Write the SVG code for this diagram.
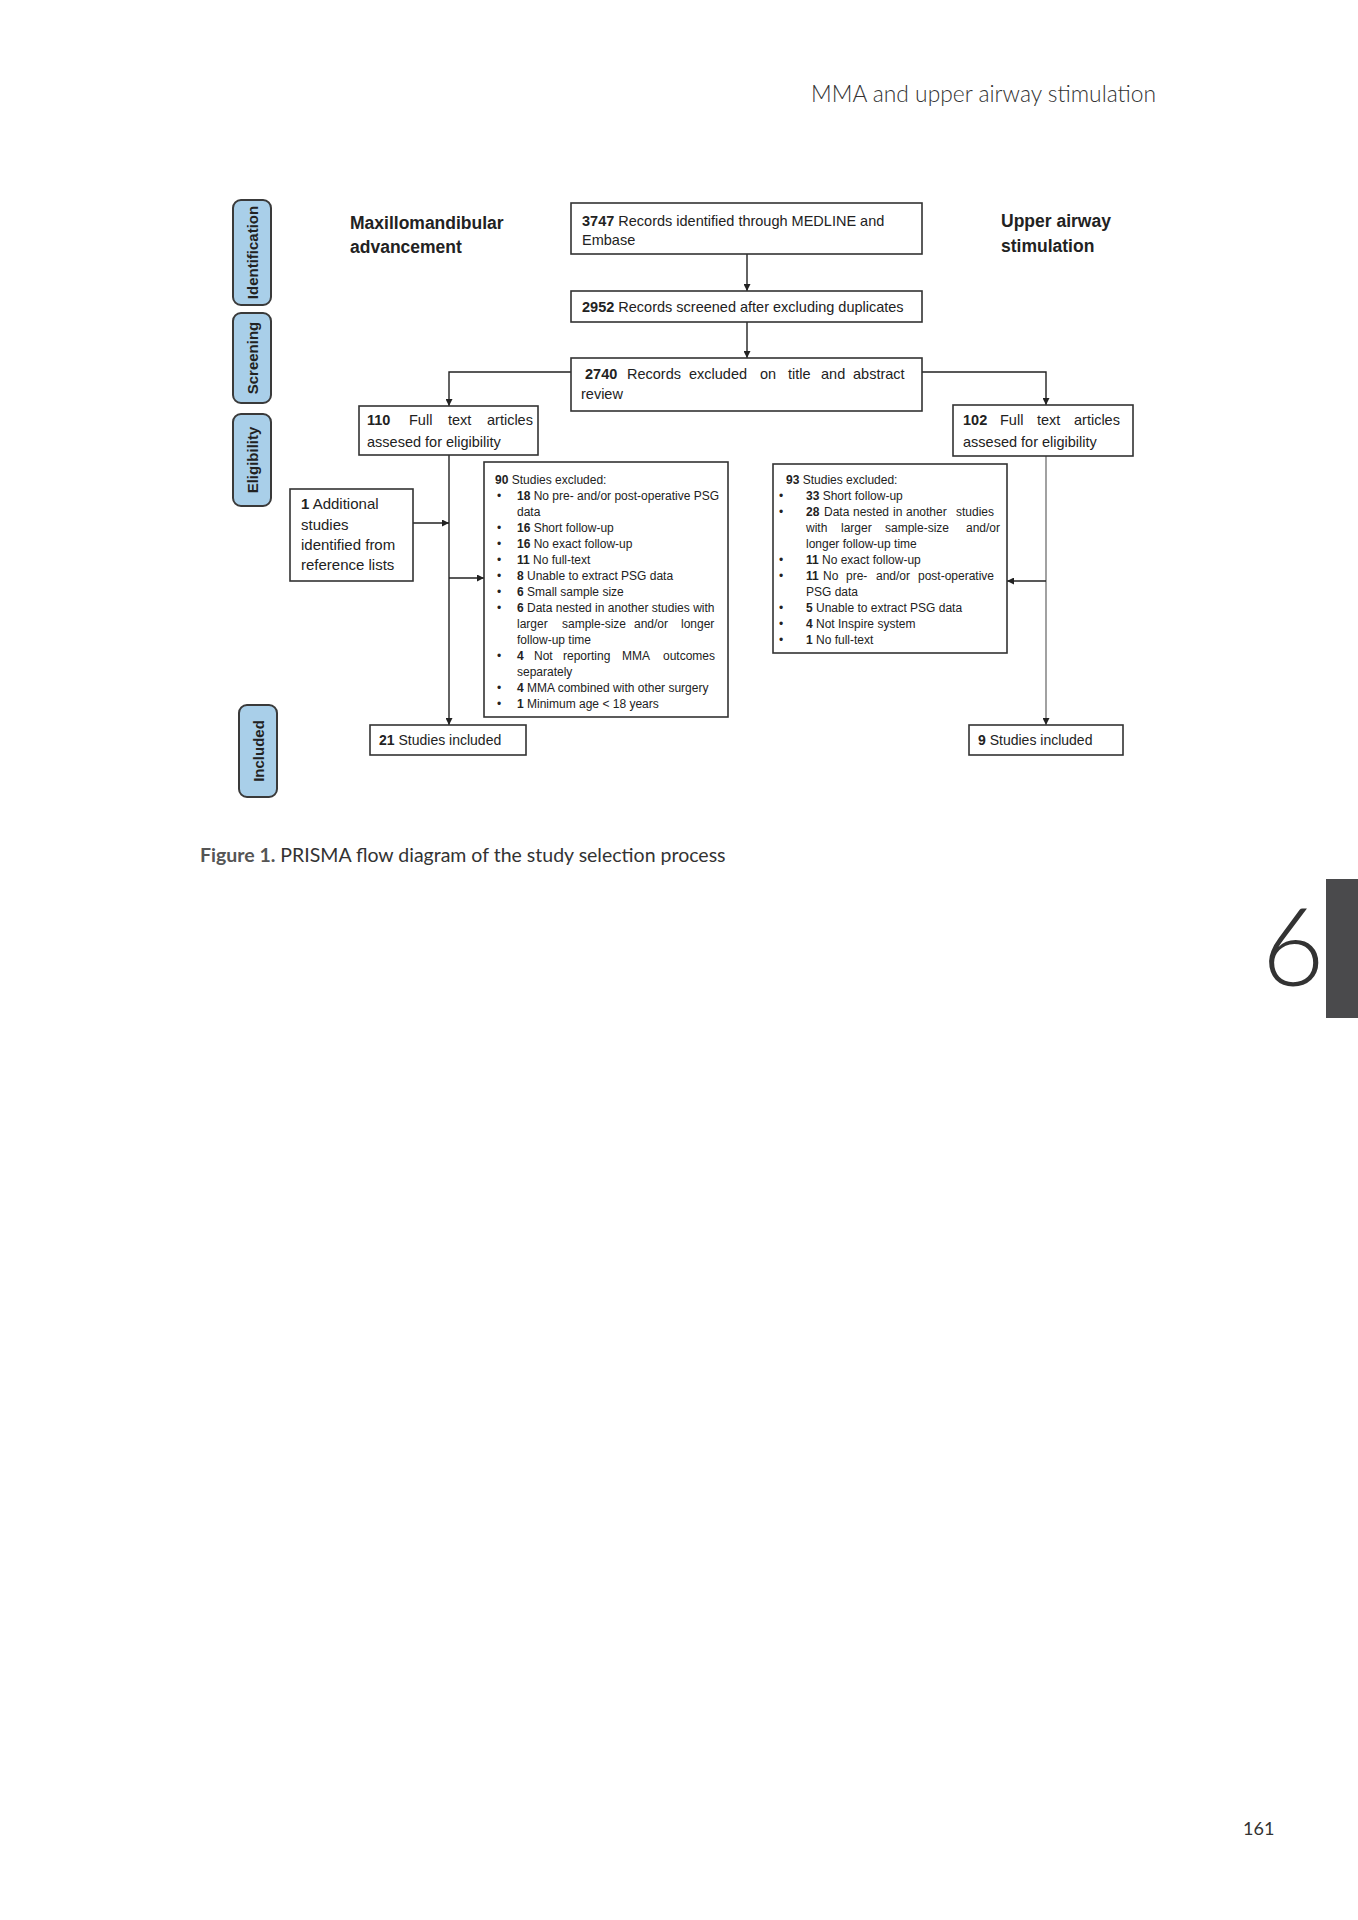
<svg xmlns="http://www.w3.org/2000/svg" width="1358" height="1920" viewBox="0 0 1358 1920">
<defs>
<marker id="ah" viewBox="0 0 10 10" refX="10" refY="5" markerWidth="7" markerHeight="7" markerUnits="userSpaceOnUse" orient="auto">
<path d="M0,0 L10,5 L0,10 z" fill="#222"/>
</marker>
<style>
.box{fill:#fff;stroke:#333;stroke-width:1.6}
.pill{fill:#a9cfe9;stroke:#3a3a3a;stroke-width:2}
.t{font-family:"Liberation Sans",Arial,sans-serif;fill:#222}
.m{font-size:14.5px}
.s{font-size:12px}
.h{font-size:17.5px;font-weight:bold}
.pt{font-family:"Liberation Sans",Arial,sans-serif;font-size:15px;font-weight:bold;fill:#222;text-anchor:middle;dominant-baseline:central}
.b{font-weight:bold}
.c{fill:none;stroke:#222;stroke-width:1.4}
.c2{fill:none;stroke:#555;stroke-width:1.1}
.pg{font-family:Lato,"Open Sans",sans-serif;fill:#333}
</style>
</defs>
<rect width="1358" height="1920" fill="#fff"/>

<!-- page header -->
<text class="pg" x="811" y="102" font-size="22.8" font-weight="300">MMA and upper airway stimulation</text>

<!-- phase labels -->
<g id="phase-identification">
<rect class="pill" x="233" y="200" width="38" height="105" rx="8"/>
<text class="pt" transform="translate(252,252.5) rotate(-90)">Identification</text>
</g>
<g id="phase-screening">
<rect class="pill" x="233" y="313" width="38" height="90" rx="8"/>
<text class="pt" transform="translate(252,358) rotate(-90)">Screening</text>
</g>
<g id="phase-eligibility">
<rect class="pill" x="233" y="414" width="38" height="92" rx="8"/>
<text class="pt" transform="translate(252,460) rotate(-90)">Eligibility</text>
</g>
<g id="phase-included">
<rect class="pill" x="239" y="705" width="38" height="92" rx="8"/>
<text class="pt" transform="translate(258,751) rotate(-90)">Included</text>
</g>

<!-- headings -->
<g id="heading-mma">
<text class="t h" x="350" y="229">Maxillomandibular</text>
<text class="t h" x="350" y="253">advancement</text>
</g>
<g id="heading-uas">
<text class="t h" x="1001" y="227">Upper airway</text>
<text class="t h" x="1001" y="252">stimulation</text>
</g>

<!-- connectors -->
<g id="connectors">
<line class="c" x1="747" y1="254" x2="747" y2="291" marker-end="url(#ah)"/>
<line class="c" x1="747" y1="322" x2="747" y2="358" marker-end="url(#ah)"/>
<polyline class="c" points="571,372 449,372 449,406" marker-end="url(#ah)"/>
<polyline class="c" points="922,372 1046,372 1046,405" marker-end="url(#ah)"/>
<line class="c" x1="449" y1="455" x2="449" y2="725" marker-end="url(#ah)"/>
<line class="c" x1="413" y1="523" x2="449" y2="523" marker-end="url(#ah)"/>
<line class="c" x1="449" y1="578" x2="484" y2="578" marker-end="url(#ah)"/>
<line class="c2" x1="1046" y1="456" x2="1046" y2="725" marker-end="url(#ah)"/>
<line class="c" x1="1046" y1="581" x2="1007" y2="581" marker-end="url(#ah)"/>
</g>

<!-- nodes -->
<g id="n3747">
<rect class="box" x="571" y="203" width="351" height="51"/>
<text class="t m" x="582" y="226"><tspan class="b">3747</tspan> Records identified through MEDLINE and</text>
<text class="t m" x="582" y="245">Embase</text>
</g>

<g id="n2952">
<rect class="box" x="571" y="291" width="351" height="31"/>
<text class="t m" x="582" y="312"><tspan class="b">2952</tspan> Records screened after excluding duplicates</text>
</g>

<g id="n2740">
<rect class="box" x="571" y="358" width="351" height="53"/>
<text class="t m" y="379"><tspan class="b" x="585">2740</tspan><tspan x="627">Records</tspan><tspan x="689">excluded</tspan><tspan x="760">on</tspan><tspan x="788">title</tspan><tspan x="821">and</tspan><tspan x="853">abstract</tspan></text>
<text class="t m" x="581" y="399">review</text>
</g>

<g id="n110">
<rect class="box" x="359" y="406" width="179" height="49"/>
<text class="t m" y="425"><tspan class="b" x="367">110</tspan><tspan x="409">Full</tspan><tspan x="448">text</tspan><tspan x="487">articles</tspan></text>
<text class="t m" x="367" y="447">assesed for eligibility</text>
</g>

<g id="n102">
<rect class="box" x="953" y="405" width="180" height="51"/>
<text class="t m" y="425"><tspan class="b" x="963">102</tspan><tspan x="1000">Full</tspan><tspan x="1037">text</tspan><tspan x="1074">articles</tspan></text>
<text class="t m" x="963" y="447">assesed for eligibility</text>
</g>

<g id="n-additional">
<rect class="box" x="290" y="489" width="123" height="92"/>
<text class="t" font-size="15" x="301" y="509"><tspan class="b">1</tspan> Additional</text>
<text class="t" font-size="15" x="301" y="530">studies</text>
<text class="t" font-size="15" x="301" y="550">identified from</text>
<text class="t" font-size="15" x="301" y="570">reference lists</text>
</g>

<g id="n90-excluded">
<rect class="box" x="484" y="462" width="244" height="255"/>
<text class="t s" x="495" y="484"><tspan class="b">90</tspan> Studies excluded:</text>
<g class="t s">
<text x="497" y="500">•</text><text x="517" y="500"><tspan class="b">18</tspan> No pre- and/or post-operative PSG</text>
<text x="517" y="516">data</text>
<text x="497" y="532">•</text><text x="517" y="532"><tspan class="b">16</tspan> Short follow-up</text>
<text x="497" y="548">•</text><text x="517" y="548"><tspan class="b">16</tspan> No exact follow-up</text>
<text x="497" y="564">•</text><text x="517" y="564"><tspan class="b">11</tspan> No full-text</text>
<text x="497" y="580">•</text><text x="517" y="580"><tspan class="b">8</tspan> Unable to extract PSG data</text>
<text x="497" y="596">•</text><text x="517" y="596"><tspan class="b">6</tspan> Small sample size</text>
<text x="497" y="612">•</text><text x="517" y="612"><tspan class="b">6</tspan> Data nested in another studies with</text>
<text y="628"><tspan x="517">larger</tspan><tspan x="562">sample-size</tspan><tspan x="634">and/or</tspan><tspan x="681">longer</tspan></text>
<text x="517" y="644">follow-up time</text>
<text x="497" y="660">•</text><text y="660"><tspan class="b" x="517">4</tspan><tspan x="534">Not</tspan><tspan x="563">reporting</tspan><tspan x="622">MMA</tspan><tspan x="663">outcomes</tspan></text>
<text x="517" y="676">separately</text>
<text x="497" y="692">•</text><text x="517" y="692"><tspan class="b">4</tspan> MMA combined with other surgery</text>
<text x="497" y="708">•</text><text x="517" y="708"><tspan class="b">1</tspan> Minimum age &lt; 18 years</text>
</g>
</g>

<g id="n93-excluded">
<rect class="box" x="773" y="464" width="234" height="189"/>
<g class="t s">
<text x="786" y="484"><tspan class="b">93</tspan> Studies excluded:</text>
<text x="779" y="500">•</text><text x="806" y="500"><tspan class="b">33</tspan> Short follow-up</text>
<text x="779" y="516">•</text><text y="516"><tspan class="b" x="806">28</tspan><tspan x="824">Data</tspan><tspan x="853">nested</tspan><tspan x="893">in</tspan><tspan x="906">another</tspan><tspan x="956">studies</tspan></text>
<text y="532"><tspan x="806">with</tspan><tspan x="841">larger</tspan><tspan x="885">sample-size</tspan><tspan x="966">and/or</tspan></text>
<text x="806" y="548">longer follow-up time</text>
<text x="779" y="564">•</text><text x="806" y="564"><tspan class="b">11</tspan>  No exact follow-up</text>
<text x="779" y="580">•</text><text y="580"><tspan class="b" x="806">11</tspan><tspan x="823">No</tspan><tspan x="846">pre-</tspan><tspan x="876">and/or</tspan><tspan x="918">post-operative</tspan></text>
<text x="806" y="596">PSG data</text>
<text x="779" y="612">•</text><text x="806" y="612"><tspan class="b">5</tspan> Unable to extract PSG data</text>
<text x="779" y="628">•</text><text x="806" y="628"><tspan class="b">4</tspan> Not Inspire system</text>
<text x="779" y="644">•</text><text x="806" y="644"><tspan class="b">1</tspan> No full-text</text>
</g>
</g>

<g id="n21">
<rect class="box" x="370" y="725" width="156" height="30"/>
<text class="t" font-size="14" x="379" y="745"><tspan class="b">21</tspan> Studies included</text>
</g>

<g id="n9">
<rect class="box" x="969" y="725" width="154" height="30"/>
<text class="t" font-size="14" x="978" y="745"><tspan class="b">9</tspan> Studies included</text>
</g>

<!-- caption -->
<text class="pg" x="200" y="862" font-size="19.5" fill="#444"><tspan font-weight="bold" fill="#555">Figure 1.</tspan> PRISMA flow diagram of the study selection process</text>

<!-- chapter tab -->
<rect x="1326" y="879" width="32" height="139" fill="#4a4a4c"/>
<text class="pg" x="1293" y="986" font-size="108" font-weight="300" fill="#555" text-anchor="middle">6</text>

<!-- page number -->
<text class="pg" x="1243" y="1835" font-size="18" fill="#333">161</text>
</svg>
